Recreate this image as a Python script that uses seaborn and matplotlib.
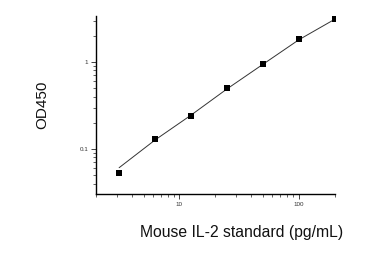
import matplotlib
matplotlib.use("Agg")
import matplotlib.pyplot as plt
import seaborn as sns
import pandas as pd
from matplotlib.ticker import LogLocator, FixedLocator, FixedFormatter, NullFormatter

# data
conc = [3.125, 6.25, 12.5, 25, 50, 100, 200]
od450 = [0.053, 0.129, 0.241, 0.499, 0.955, 1.84, 3.12]
fit_od = [0.061, 0.127, 0.245, 0.49, 0.94, 1.80, 3.10]
x_ticks = [10, 100]
x_ticklabels = ["10", "100"]
y_ticks = [0.1, 1]
y_ticklabels = ["0.1", "1"]

sns.set_style("ticks")
plt.rcParams['font.family'] = ['Liberation Sans', 'DejaVu Sans']

fig = plt.figure(figsize=(3.71, 2.61), dpi=100)
ax = fig.add_axes([96/371, 1-194/261, (335-96)/371, (194-16)/261])

df_pts = pd.DataFrame({"conc": conc, "od": od450})
df_fit = pd.DataFrame({"conc": conc, "od": fit_od})

sns.lineplot(data=df_fit, x="conc", y="od", ax=ax, color="#333333", linewidth=0.7)
sns.scatterplot(data=df_pts, x="conc", y="od", ax=ax, marker="s", s=20,
                color="black", edgecolor="black", linewidth=0, zorder=3)

ax.set_xscale("log")
ax.set_yscale("log")
ax.set_xlim(2, 201)
ax.set_ylim(0.0304, 3.38)

ax.xaxis.set_major_locator(FixedLocator(x_ticks))
ax.xaxis.set_major_formatter(FixedFormatter(x_ticklabels))
ax.xaxis.set_minor_locator(LogLocator(base=10, subs=range(2, 10)))
ax.xaxis.set_minor_formatter(NullFormatter())
ax.yaxis.set_major_locator(FixedLocator(y_ticks))
ax.yaxis.set_major_formatter(FixedFormatter(y_ticklabels))
ax.yaxis.set_minor_locator(LogLocator(base=10, subs=range(2, 10)))
ax.yaxis.set_minor_formatter(NullFormatter())

ax.tick_params(axis="both", which="major", length=3.5, width=0.6, labelsize=4.5,
               color="#222222", labelcolor="#333333", pad=2)
ax.tick_params(axis="both", which="minor", length=2, width=0.5, color="#222222")

for s in ["top", "right"]:
    ax.spines[s].set_visible(False)
for s in ["left", "bottom"]:
    ax.spines[s].set_linewidth(1.0)
    ax.spines[s].set_color("black")

ax.set_xlabel("Mouse IL-2 standard (pg/mL)", fontsize=11.3, color="#111111")
ax.xaxis.set_label_coords((242-96)/(335-96), -(232-194)/178, transform=ax.transAxes)
ax.set_ylabel("OD450", fontsize=11, color="#111111")
ax.yaxis.set_label_coords(-(96-42)/239, 0.5, transform=ax.transAxes)
ax.xaxis.label.set_va("center")
ax.yaxis.label.set_va("center")

fig.savefig("out.png", dpi=100, facecolor="white")
